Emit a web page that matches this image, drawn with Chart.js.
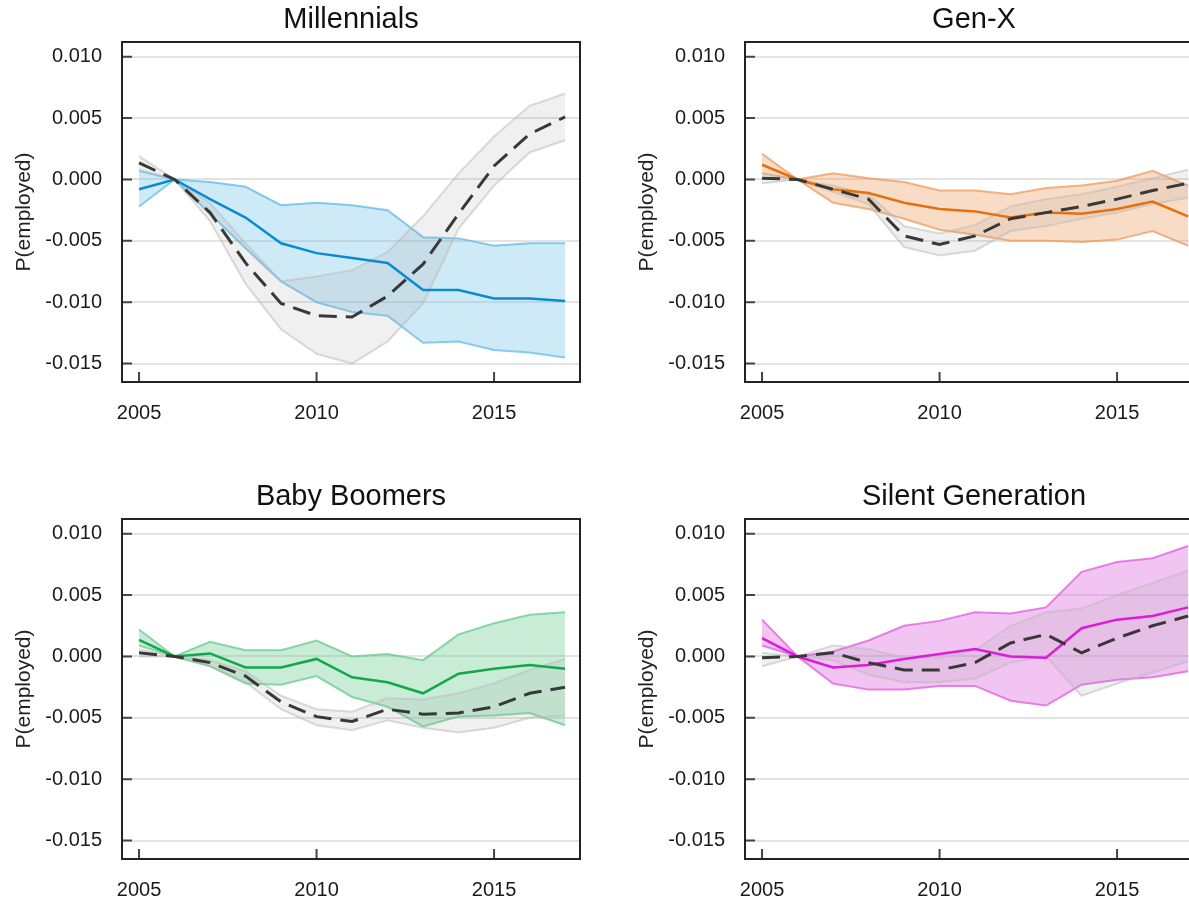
<!DOCTYPE html>
<html>
<head>
<meta charset="utf-8">
<script src="https://cdn.jsdelivr.net/npm/chart.js@4.4.0/dist/chart.umd.min.js"></script>
<style>
  html, body { margin: 0; padding: 0; background: #fff; width: 1189px; height: 906px; overflow: hidden; position: relative; }
  canvas { position: absolute; }
</style>
</head>
<body>
<canvas id="millennials" width="600" height="440" style="left:0;top:0"></canvas>
<canvas id="genx" width="600" height="440" style="left:623px;top:0"></canvas>
<canvas id="boomers" width="600" height="440" style="left:0;top:477px"></canvas>
<canvas id="silent" width="600" height="440" style="left:623px;top:477px"></canvas>
<script>
// years and axis ticks
var years  = [2005, 2006, 2007, 2008, 2009, 2010, 2011, 2012, 2013, 2014, 2015, 2016, 2017];
var xTicks = [2005, 2010, 2015];
var yTicks = [-0.015, -0.010, -0.005, 0, 0.005, 0.010];

// Millennials
var millMean  = [-0.0008, 0, -0.0016, -0.0031, -0.0052, -0.0060, -0.0064, -0.0068, -0.0090, -0.0090, -0.0097, -0.0097, -0.0099];
var millUpper = [0.0007, 0, -0.0002, -0.0006, -0.0021, -0.0019, -0.0021, -0.0025, -0.0047, -0.0048, -0.0054, -0.0052, -0.0052];
var millLower = [-0.0022, 0, -0.0028, -0.0056, -0.0083, -0.0100, -0.0108, -0.0111, -0.0133, -0.0132, -0.0139, -0.0141, -0.0145];
var millAll   = [0.00135, 0, -0.0027, -0.0068, -0.0101, -0.0111, -0.0112, -0.0095, -0.0069, -0.0028, 0.0011, 0.0037, 0.0051];
var millAllUp = [0.0019, 0, -0.0019, -0.0052, -0.0083, -0.0079, -0.0074, -0.0059, -0.0030, 0.0005, 0.0035, 0.0060, 0.0070];
var millAllLo = [0.0008, 0, -0.0034, -0.0085, -0.0122, -0.0142, -0.0150, -0.0132, -0.0101, -0.0040, -0.0005, 0.0022, 0.0032];

// Gen-X
var genxMean  = [0.0012, 0, -0.0008, -0.0011, -0.0019, -0.0024, -0.0026, -0.0031, -0.0027, -0.0028, -0.0024, -0.0018, -0.0030];
var genxUpper = [0.0021, 0, 0.0005, 0.0001, -0.0002, -0.0009, -0.0009, -0.0012, -0.0007, -0.0005, -0.0001, 0.0007, -0.0005];
var genxLower = [0.0005, 0, -0.0019, -0.0024, -0.0032, -0.0041, -0.0045, -0.0050, -0.0050, -0.0051, -0.0049, -0.0042, -0.0054];
var genxAll   = [0.0001, 0, -0.0008, -0.0016, -0.0046, -0.0053, -0.0046, -0.0032, -0.0027, -0.0022, -0.0016, -0.0009, -0.0003];
var genxAllUp = [0.0004, 0, -0.0005, -0.0012, -0.0038, -0.0044, -0.0037, -0.0022, -0.0016, -0.0012, -0.0006, 0.0001, 0.0008];
var genxAllLo = [-0.0003, 0, -0.0010, -0.0020, -0.0055, -0.0062, -0.0058, -0.0042, -0.0038, -0.0032, -0.0027, -0.0020, -0.0015];

// Baby Boomers
var boomMean  = [0.00135, 0, 0.00025, -0.0009, -0.0009, -0.0002, -0.0017, -0.0021, -0.0030, -0.0014, -0.0010, -0.0007, -0.0010];
var boomUpper = [0.0022, 0, 0.0012, 0.0005, 0.0005, 0.0013, 0, 0.0002, -0.0003, 0.0018, 0.0027, 0.0034, 0.0036];
var boomLower = [0.0009, 0, -0.0008, -0.0022, -0.0023, -0.0016, -0.0033, -0.0041, -0.0057, -0.0049, -0.0048, -0.0046, -0.0056];
var boomAll   = [0.0003, 0, -0.0005, -0.0016, -0.0037, -0.0049, -0.0053, -0.0043, -0.0047, -0.0046, -0.0041, -0.0030, -0.0025];
var boomAllUp = [0.0006, 0, -0.0003, -0.0012, -0.0032, -0.0043, -0.0045, -0.0034, -0.0035, -0.0030, -0.0022, -0.0011, -0.0002];
var boomAllLo = [0.0000, 0, -0.0008, -0.0021, -0.0043, -0.0056, -0.0060, -0.0052, -0.0058, -0.0062, -0.0058, -0.0050, -0.0048];

// Silent Generation
var silMean  = [0.0015, 0, -0.0009, -0.0007, -0.0002, 0.0002, 0.0006, 0, -0.0001, 0.0023, 0.0030, 0.0033, 0.0040];
var silUpper = [0.0030, 0, 0.0004, 0.0013, 0.0025, 0.0029, 0.0036, 0.0035, 0.0040, 0.0069, 0.0077, 0.0080, 0.0090];
var silLower = [0.0009, 0, -0.0022, -0.0027, -0.0027, -0.0024, -0.0024, -0.0036, -0.0040, -0.0023, -0.0019, -0.0017, -0.0012];
var silAll   = [-0.0001, 0, 0.0003, -0.0005, -0.0011, -0.0011, -0.0005, 0.0011, 0.0018, 0.0003, 0.0015, 0.0025, 0.0033];
var silAllUp = [0.0003, 0, 0.0009, 0.0006, -0.0001, -0.0001, 0.0005, 0.0025, 0.0036, 0.0039, 0.0050, 0.0060, 0.0070];
var silAllLo = [-0.0008, 0, -0.0003, -0.0015, -0.0021, -0.0021, -0.0018, -0.0005, 0.0000, -0.0032, -0.0022, -0.0013, -0.0004];

var FONT = '"Liberation Sans", Arial, sans-serif';

// box round the plot + short ticks pointing inwards
var framePlugin = {
  id: 'frame',
  afterDatasetsDraw: function(chart) {
    var ctx = chart.ctx, a = chart.chartArea, s = chart.scales;
    ctx.save();
    ctx.strokeStyle = '#444';
    ctx.lineWidth = 2;
    ctx.beginPath();
    yTicks.forEach(function(v) {
      var p = s.y.getPixelForValue(v);
      ctx.moveTo(a.left, p); ctx.lineTo(a.left + 10, p);
    });
    xTicks.forEach(function(v) {
      var p = s.x.getPixelForValue(v);
      ctx.moveTo(p, a.bottom); ctx.lineTo(p, a.bottom - 10);
    });
    ctx.stroke();
    ctx.strokeStyle = '#222';
    ctx.strokeRect(a.left, a.top, a.right - a.left, a.bottom - a.top);
    ctx.restore();
  }
};

function pts(arr) {
  return years.map(function(x, i) { return {x: x, y: arr[i]}; });
}

function panel(id, title, col, mean, upper, lower, all, allUp, allLo) {
  var grayEdge = 'rgba(185,185,185,0.5)';
  new Chart(document.getElementById(id), {
    type: 'line',
    data: {
      datasets: [
        {data: pts(all), borderColor: '#383838', borderWidth: 3, borderDash: [18, 9], pointRadius: 0, fill: false, order: 0},
        {data: pts(mean), borderColor: col.line, borderWidth: 2.5, pointRadius: 0, fill: false, order: 1},
        {data: pts(allUp), borderColor: grayEdge, borderWidth: 2, backgroundColor: 'rgba(160,160,160,0.16)', pointRadius: 0, fill: '+1', order: 2},
        {data: pts(allLo), borderColor: grayEdge, borderWidth: 2, pointRadius: 0, fill: false, order: 2},
        {data: pts(upper), borderColor: col.edge, borderWidth: 2, backgroundColor: col.fill, pointRadius: 0, fill: '+1', order: 3},
        {data: pts(lower), borderColor: col.edge, borderWidth: 2, pointRadius: 0, fill: false, order: 3}
      ]
    },
    options: {
      responsive: false,
      animation: false,
      devicePixelRatio: 1,
      layout: {padding: {left: 0, right: 20, top: 0, bottom: 0}},
      plugins: {
        legend: {display: false},
        tooltip: {enabled: false},
        title: {
          display: true, text: title, color: '#111', fullSize: false,
          font: {family: FONT, size: 29, weight: 'normal'},
          padding: {top: 3, bottom: 4.2}
        }
      },
      scales: {
        x: {
          type: 'linear', min: 2004.52, max: 2017.42,
          grid: {display: false, drawTicks: false},
          border: {display: false},
          afterBuildTicks: function(s) { s.ticks = xTicks.map(function(v) { return {value: v}; }); },
          afterFit: function(s) { s.height = 58; },
          ticks: {
            padding: 19, color: '#1a1a1a', maxRotation: 0, autoSkip: false,
            font: {family: FONT, size: 20},
            callback: function(v) { return String(v); }
          }
        },
        y: {
          min: -0.0165, max: 0.0112,
          grid: {color: '#e3e3e3', lineWidth: 2, drawTicks: false},
          border: {display: false},
          afterBuildTicks: function(s) { s.ticks = yTicks.map(function(v) { return {value: v}; }); },
          afterFit: function(s) { s.width = 122; },
          ticks: {
            padding: 20, color: '#1a1a1a',
            font: {family: FONT, size: 20},
            callback: function(v) { return Number(v).toFixed(3); }
          },
          title: {
            display: true, text: 'P(employed)', color: '#222',
            font: {family: FONT, size: 21},
            padding: {top: 12, bottom: 0}
          }
        }
      }
    },
    plugins: [framePlugin]
  });
}

panel('millennials', 'Millennials',
  {line: '#0a8bd0', edge: 'rgba(95,185,230,0.75)', fill: 'rgba(125,200,235,0.38)'},
  millMean, millUpper, millLower, millAll, millAllUp, millAllLo);
panel('genx', 'Gen-X',
  {line: '#e5700e', edge: 'rgba(235,150,85,0.7)', fill: 'rgba(238,155,92,0.35)'},
  genxMean, genxUpper, genxLower, genxAll, genxAllUp, genxAllLo);
panel('boomers', 'Baby Boomers',
  {line: '#12a84a', edge: 'rgba(95,200,135,0.7)', fill: 'rgba(98,200,138,0.35)'},
  boomMean, boomUpper, boomLower, boomAll, boomAllUp, boomAllLo);
panel('silent', 'Silent Generation',
  {line: '#d91ed9', edge: 'rgba(225,100,225,0.8)', fill: 'rgba(222,107,222,0.4)'},
  silMean, silUpper, silLower, silAll, silAllUp, silAllLo);
</script>
</body>
</html>
